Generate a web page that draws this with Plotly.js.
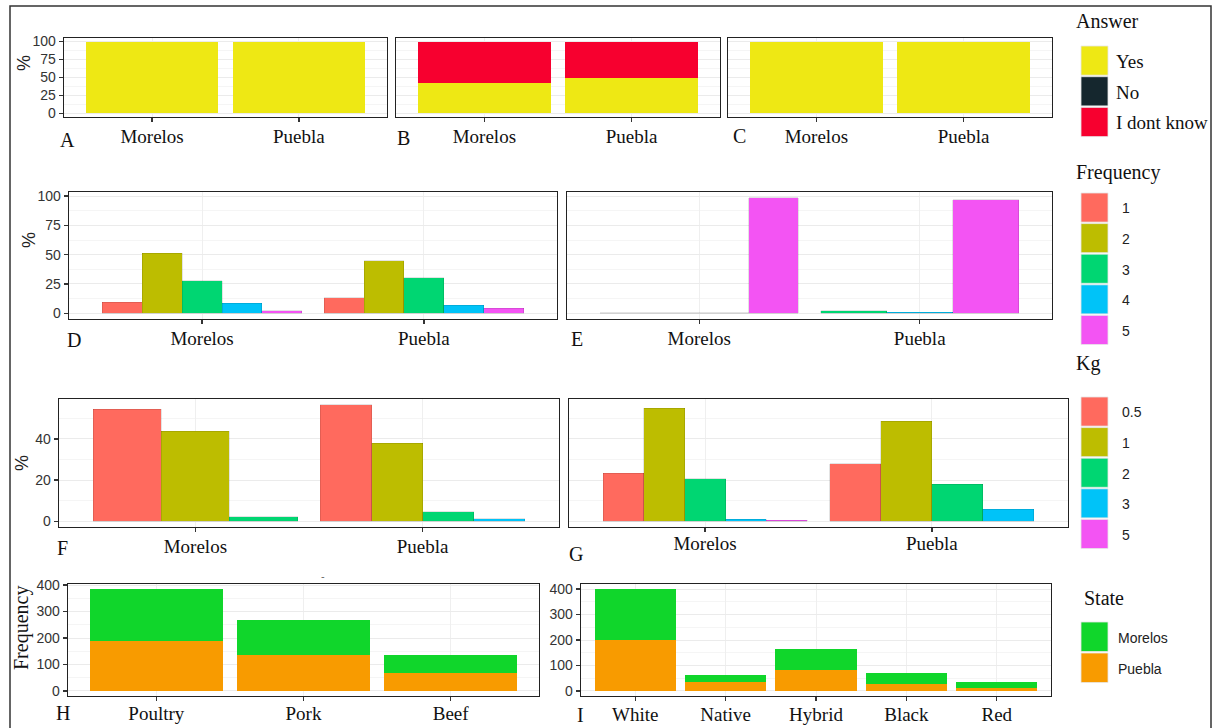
<!DOCTYPE html>
<html><head><meta charset="utf-8">
<script src="https://cdn.plot.ly/plotly-3.0.1.min.js"></script>
<style>html,body{margin:0;padding:0;background:#fff;}#chart{width:1212px;height:728px;}</style>
</head><body><div id="chart"></div>
<script>
// ---------------- data ----------------
const states = ['Morelos', 'Puebla'];
const answers = ['Yes', 'No', 'I dont know'];
const answerColors = ['#EEE814', '#15272E', '#F7002F'];
// panel A (stacked %, by state)
const aYes = [99, 99];
const aNo = [1, 1];
const aIdk = [0, 0];
// panel B
const bYes = [42, 50];
const bNo = [0, 0];
const bIdk = [58, 50];
// panel C
const cYes = [100, 100];
const cNo = [0, 0];
const cIdk = [0, 0];

const freqLevels = ['1', '2', '3', '4', '5'];
const freqColors = ['#FF6A5E', '#BDBD00', '#00D672', '#00C3F8', '#F354F3'];
// panel D (% by frequency level)
const dMorelos = [9.2, 51.3, 27.7, 8.4, 2.2];
const dPuebla = [13.4, 45.0, 30.5, 7.0, 4.2];
// panel E
const eMorelos = [null, 0.5, 0.4, 0.5, 98.6];
const ePuebla = [null, null, 2.0, 0.9, 97.1];

const kgLevels = ['0.5', '1', '2', '3', '5'];
const kgColors = freqColors;
// panel F (% by kg)
const fMorelos = [54.5, 43.7, 2.1, null, null];
const fPuebla = [56.6, 37.9, 4.5, 1.1, null];
// panel G
const gMorelos = [23.2, 55.0, 20.6, 1.0, 0.5];
const gPuebla = [27.9, 48.7, 18.0, 5.8, null];

const stateColors = ['#10D62B', '#F89B00']; // Morelos, Puebla
// panel H (frequency by meat)
const meats = ['Poultry', 'Pork', 'Beef'];
const hPuebla = [189, 134, 67];
const hMorelos = [196, 135, 67];
// panel I (frequency by breed colour)
const breeds = ['White', 'Native', 'Hybrid', 'Black', 'Red'];
const iPuebla = [200, 36, 82, 26, 12];
const iMorelos = [200, 25, 82, 43, 22];

const pctTicks = [0, 25, 50, 75, 100];
const kgTicks = [0, 20, 40];
const countTicks = [0, 100, 200, 300, 400];

// ---------------- layout helpers ----------------
const W = 1212, H = 728;
const SERIF = 'Liberation Serif, Times New Roman, serif';
const SANS = 'Liberation Sans, Arial, sans-serif';
const traces = [];
const layout = {
  width: W, height: H, margin: {l: 0, r: 0, t: 0, b: 0},
  paper_bgcolor: '#fff', plot_bgcolor: '#fff', barmode: 'stack',
  showlegend: false, shapes: [], annotations: [], bargap: 0
};
const nm = n => (n === 1 ? '' : String(n));

function ggRange(maxv) { return [-0.05 * maxv, maxv * 1.05]; }

function addAxes(n, box, cats, yr, yticks, showY, standoff) {
  const [x0, y0, x1, y1] = box;
  layout['xaxis' + nm(n)] = {
    domain: [x0 / W, x1 / W], anchor: 'y' + nm(n),
    range: [0.4, cats.length + 0.6],
    tickmode: 'array', tickvals: cats.map((c, i) => i + 1), ticktext: cats,
    ticks: 'outside', ticklen: 4, tickwidth: 1.3, tickcolor: '#333',
    ticklabelstandoff: standoff,
    showline: true, mirror: true, linecolor: '#222', linewidth: 1.4,
    showgrid: true, gridcolor: '#EFEFEF', gridwidth: 1, zeroline: false,
    tickfont: {family: SERIF, size: 19, color: '#111'}, fixedrange: true
  };
  const step = yticks[1] - yticks[0];
  layout['yaxis' + nm(n)] = {
    domain: [1 - y1 / H, 1 - y0 / H], anchor: 'x' + nm(n),
    range: yr, tickmode: 'array', tickvals: yticks,
    showticklabels: showY, ticks: showY ? 'outside' : '', ticklen: 4, tickwidth: 1.3, tickcolor: '#333',
    showline: true, mirror: true, linecolor: '#222', linewidth: 1.4,
    showgrid: true, gridcolor: '#EBEBEB', gridwidth: 1, zeroline: false,
    minor: {tickmode: 'linear', tick0: step / 2, dtick: step, showgrid: true, gridcolor: '#F5F5F5', gridwidth: 1, ticks: ''},
    tickfont: {family: SANS, size: 14, color: '#333'}, fixedrange: true
  };
}

function stacked(n, seriesList, colors) {
  seriesList.forEach((vals, i) => {
    traces.push({
      type: 'bar', x: vals.map((v, j) => j + 1), y: vals, width: 0.9,
      xaxis: 'x' + nm(n), yaxis: 'y' + nm(n),
      marker: {color: colors[i], line: {width: 0}}, hoverinfo: 'skip'
    });
  });
}

function dodged(n, byState, colors) {
  colors.forEach((col, li) => {
    const xs = [], ys = [], ws = [];
    byState.forEach((vals, si) => {
      const present = vals.map((v, i) => (v == null ? -1 : i)).filter(i => i >= 0);
      const k = present.indexOf(li);
      if (k < 0) return;
      const w = 0.9 / present.length;
      xs.push(si + 1 - 0.45 + w * (k + 0.5)); ys.push(vals[li]); ws.push(w);
    });
    if (!xs.length) return;
    traces.push({
      type: 'bar', x: xs, y: ys, width: ws,
      xaxis: 'x' + nm(n), yaxis: 'y' + nm(n),
      marker: {color: col, line: {width: 0.6, color: 'rgba(0,0,0,0.18)'}}, hoverinfo: 'skip'
    });
  });
}

const sumAt = (arrs) => arrs[0].map((_, i) => arrs.reduce((s, a) => s + (a[i] || 0), 0));
const maxOf = (arrs) => Math.max(...arrs.flat().filter(v => v != null));

// row 1
const r1 = ggRange(Math.max(...sumAt([aYes, aNo, aIdk]), ...sumAt([bYes, bNo, bIdk]), ...sumAt([cYes, cNo, cIdk])));
addAxes(1, [64, 38, 387, 117], states, r1, pctTicks, true, -2);
addAxes(2, [396, 38, 720, 117], states, r1, pctTicks, false, -2);
addAxes(3, [728, 38, 1052, 117], states, r1, pctTicks, false, -2);
stacked(1, [aYes, aNo, aIdk], answerColors);
stacked(2, [bYes, bNo, bIdk], answerColors);
stacked(3, [cYes, cNo, cIdk], answerColors);

// row 2
const r2 = ggRange(maxOf([dMorelos, dPuebla, eMorelos, ePuebla]));
addAxes(4, [69, 192, 557, 319], states, r2, pctTicks, true, -2);
addAxes(5, [567, 192, 1052, 319], states, r2, pctTicks, false, -2);
dodged(4, [dMorelos, dPuebla], freqColors);
dodged(5, [eMorelos, ePuebla], freqColors);

// row 3
const r3 = ggRange(maxOf([fMorelos, fPuebla, gMorelos, gPuebla]));
addAxes(6, [59, 399, 559, 527], states, r3, kgTicks, true, -2);
addAxes(7, [569, 399, 1068, 527], states, r3, kgTicks, false, -5);
dodged(6, [fMorelos, fPuebla], kgColors);
dodged(7, [gMorelos, gPuebla], kgColors);

// row 4
addAxes(8, [68, 584, 539, 696], meats, ggRange(Math.max(...sumAt([hPuebla, hMorelos]))), countTicks, true, -4);
addAxes(9, [581, 584, 1051, 696], breeds, ggRange(Math.max(...sumAt([iPuebla, iMorelos]))), countTicks, true, -3);
stacked(8, [hPuebla, hMorelos], [stateColors[1], stateColors[0]]);
stacked(9, [iPuebla, iMorelos], [stateColors[1], stateColors[0]]);

// ---------------- text annotations ----------------
function txt(x, y, t, font, opts) {
  layout.annotations.push(Object.assign({
    xref: 'paper', yref: 'paper', x: x / W, y: 1 - y / H, text: t, showarrow: false,
    xanchor: 'center', yanchor: 'middle', font: font
  }, opts || {}));
}
const letterFont = {family: SERIF, size: 20, color: '#111'};
[['A', 67, 140], ['B', 403, 138], ['C', 740, 136], ['D', 74, 340], ['E', 577, 339],
 ['F', 62, 548], ['G', 576, 554], ['H', 63, 713], ['I', 580, 715]].forEach(([t, x, y]) => txt(x, y, t, letterFont));

const pctFont = {family: SANS, size: 18, color: '#222'};
txt(24, 63, '%', pctFont, {textangle: -90});
txt(29, 240, '%', pctFont, {textangle: -90});
txt(22, 463, '%', pctFont, {textangle: -90});
txt(21, 628, 'Frequency', {family: SERIF, size: 20, color: '#111'}, {textangle: -90});
txt(323, 576, '-', {family: SANS, size: 11, color: '#666'});

// ---------------- legends ----------------
function legend(title, tx, ty, labels, colors, top, step, labelFont, lx) {
  txt(tx, ty, title, {family: SERIF, size: 20, color: '#111'}, {xanchor: 'left'});
  labels.forEach((lab, i) => {
    const y0 = top + i * step;
    layout.shapes.push({type: 'rect', xref: 'paper', yref: 'paper',
      x0: 1081 / W, x1: 1108 / W, y0: 1 - (y0 + step - 1.5) / H, y1: 1 - y0 / H,
      fillcolor: colors[i], line: {width: 0.8, color: '#E6E6E6'}});
    txt(lx, y0 + step / 2, lab, labelFont, {xanchor: 'left'});
  });
}
const legSerif = {family: SERIF, size: 19, color: '#111'};
const legSans = {family: SANS, size: 14, color: '#222'};
legend('Answer', 1074, 21, answers, answerColors, 46, 30.7, legSerif, 1114);
legend('Frequency', 1074, 172, freqLevels, freqColors, 193, 30.6, legSans, 1120);
legend('Kg', 1074, 363, kgLevels, kgColors, 397, 30.6, legSans, 1120);
legend('State', 1082, 598, states, stateColors, 622, 31, legSans, 1116);

// outer frame
layout.shapes.push({type: 'rect', xref: 'paper', yref: 'paper', x0: 10 / W, x1: 1211 / W,
  y0: -0.05, y1: 1 - 6 / H, line: {color: '#333', width: 1.5}, fillcolor: 'rgba(0,0,0,0)', layer: 'below'});

Plotly.newPlot('chart', traces, layout, {displayModeBar: false, staticPlot: true});
</script></body></html>
